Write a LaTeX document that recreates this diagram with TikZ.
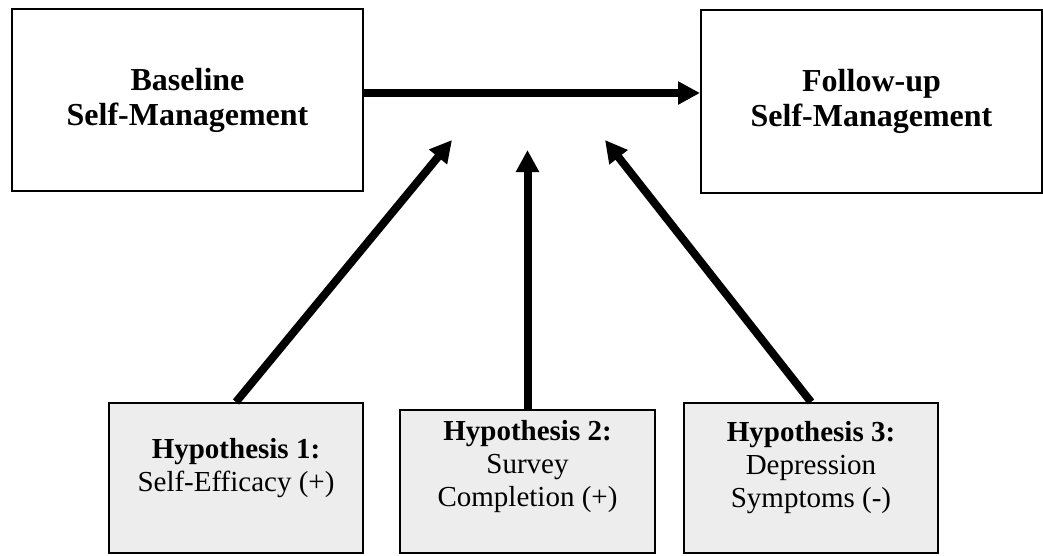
\documentclass[tikz,border=0pt]{standalone}
\usepackage{fontspec}
\setmainfont{Liberation Serif}
\usetikzlibrary{arrows.meta}
\definecolor{boxgray}{RGB}{237,237,237}

\begin{document}
\begin{tikzpicture}[x=1pt,y=-1pt,
  outcome/.style={draw,line width=2pt,inner sep=0pt,align=center,font=\fontsize{32}{35}\selectfont\bfseries},
  hypbox/.style={draw,fill=boxgray,line width=2pt,inner sep=0pt},
  hyptext/.style={align=center,font=\fontsize{29}{33}\selectfont},
  link/.style={line width=8pt,-{Triangle[length=22pt,width=22pt]}}]
\useasboundingbox (0,0) rectangle (1043,555);

\node[outcome,minimum width=351pt,minimum height=182pt] (base) at (187.5,100) {Baseline\\Self-Management};
\node[outcome,minimum width=341pt,minimum height=183pt] (follow) at (871.5,101.5) {Follow-up\\Self-Management};

\node[hypbox,minimum width=254pt,minimum height=150pt] (hyp1) at (236,478) {};
\node[hyptext] (hyp1text) at (236,468) {\textbf{Hypothesis 1:}\\Self-Efficacy (+)};
\node[hypbox,minimum width=255pt,minimum height=143pt] (hyp2) at (527.5,481.5) {};
\node[hyptext] (hyp2text) at (527.5,467) {\textbf{Hypothesis 2:}\\Survey\\Completion (+)};
\node[hypbox,minimum width=254pt,minimum height=150pt] (hyp3) at (811,478) {};
\node[hyptext] (hyp3text) at (811,468) {\textbf{Hypothesis 3:}\\Depression\\Symptoms (-)};

\coordinate (tip1) at (452,140);
\coordinate (tip2) at (527.5,150);
\coordinate (tip3) at (605,140);

\draw[link] ([yshift=7pt]base.east) -- ([yshift=7pt]base.east -| follow.west);
\draw[link] (hyp1.north) -- (tip1);
\draw[link] (hyp2.north) -- (tip2);
\draw[link] (hyp3.north) -- (tip3);
\end{tikzpicture}
\end{document}
